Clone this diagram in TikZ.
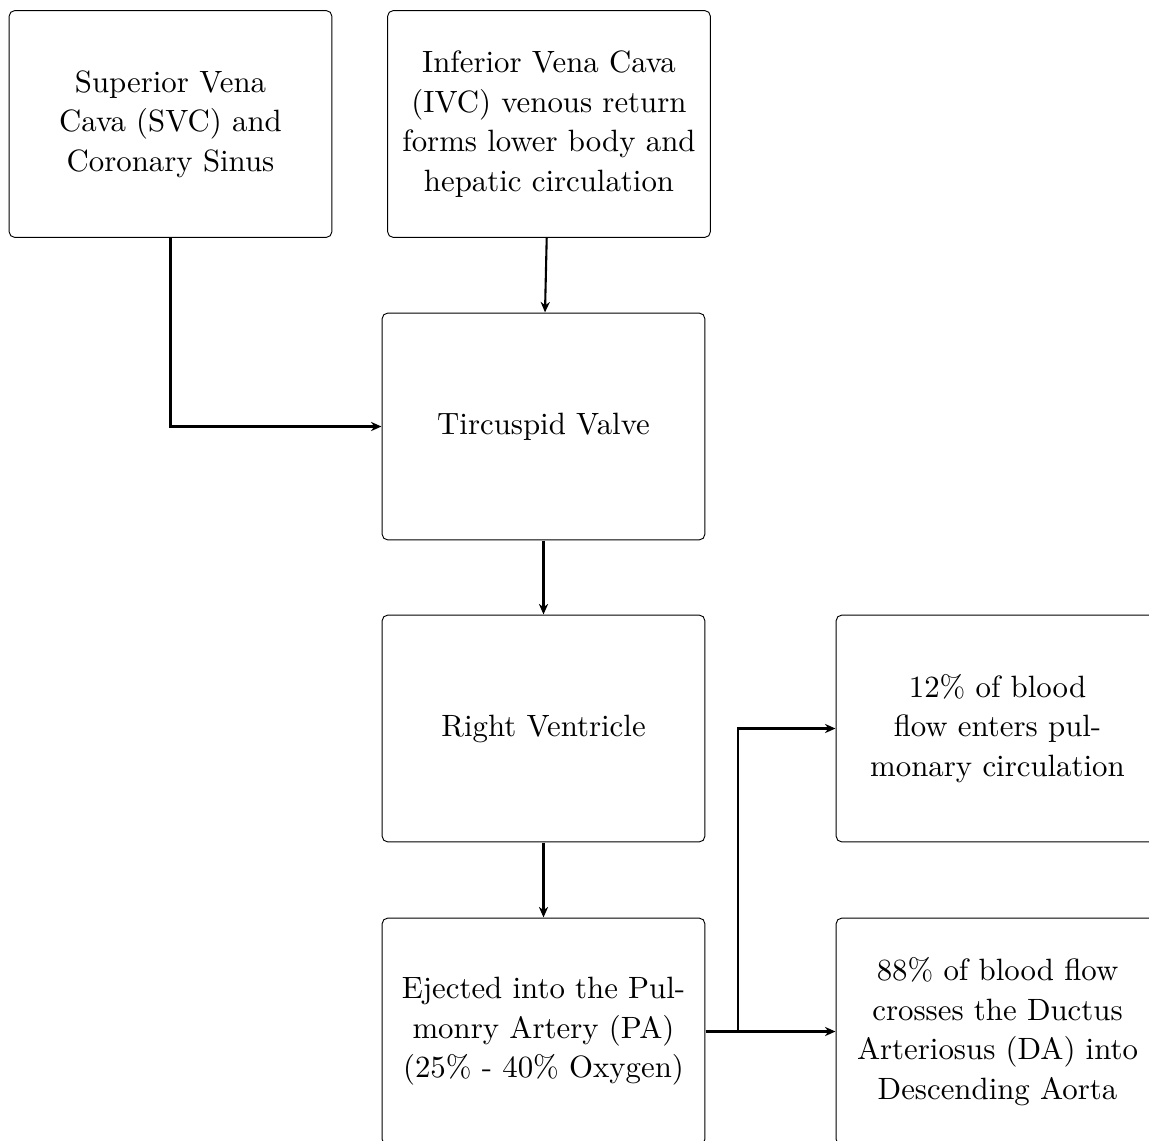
\documentclass[tikz,border=0pt]{standalone}
\usetikzlibrary{arrows.meta,calc}
\begin{document}
\begin{tikzpicture}[x=0.4785pt,y=-0.4785pt,
  box/.style={draw,line width=0.45pt,rounded corners=2.7pt,scale=1.475,transform shape,
    minimum width=104.7pt,minimum height=73.6pt,
    inner sep=0pt,text width=102pt,align=center,font=\fontsize{10pt}{12.8pt}\selectfont},
  arr/.style={-{Stealth[length=5pt,width=4.4pt,inset=1.6pt]},line width=1pt}]
\useasboundingbox (0,0) rectangle (1149,1140);
\node[box] (svc) at (170.5,124) {Superior Vena\\Cava (SVC) and\\Coronary Sinus};
\node[box] (ivc) at (549,124) {Inferior Vena Cava\\(IVC) venous return\\forms lower body and\\hepatic circulation};
\node[box] (tv) at (543.5,426.5) {Tircuspid Valve};
\node[box] (rv) at (543.5,728.5) {Right Ventricle};
\node[box] (pa) at (543.5,1031.5) {Ejected into the Pul-\\monry Artery (PA)\\(25\% - 40\% Oxygen)};
\node[box] (d12) at (997.5,728.5) {12\% of blood\\flow enters pul-\\monary circulation};
\node[box] (d88) at (997.5,1031.5) {88\% of blood flow\\crosses the Ductus\\Arteriosus (DA) into\\Descending Aorta};
\draw[arr] (svc.south) |- (tv.west);
\draw[arr] ($(ivc.south)+(-2.3,0)$) -- ($(tv.north)+(1.5,0)$);
\draw[arr] (tv.south) -- (rv.north);
\draw[arr] (rv.south) -- (pa.north);
\draw[arr] (pa.east) -- (d88.west);
\draw[arr] (pa.east) -- ++(32,0) |- (d12.west);
\end{tikzpicture}
\end{document}
